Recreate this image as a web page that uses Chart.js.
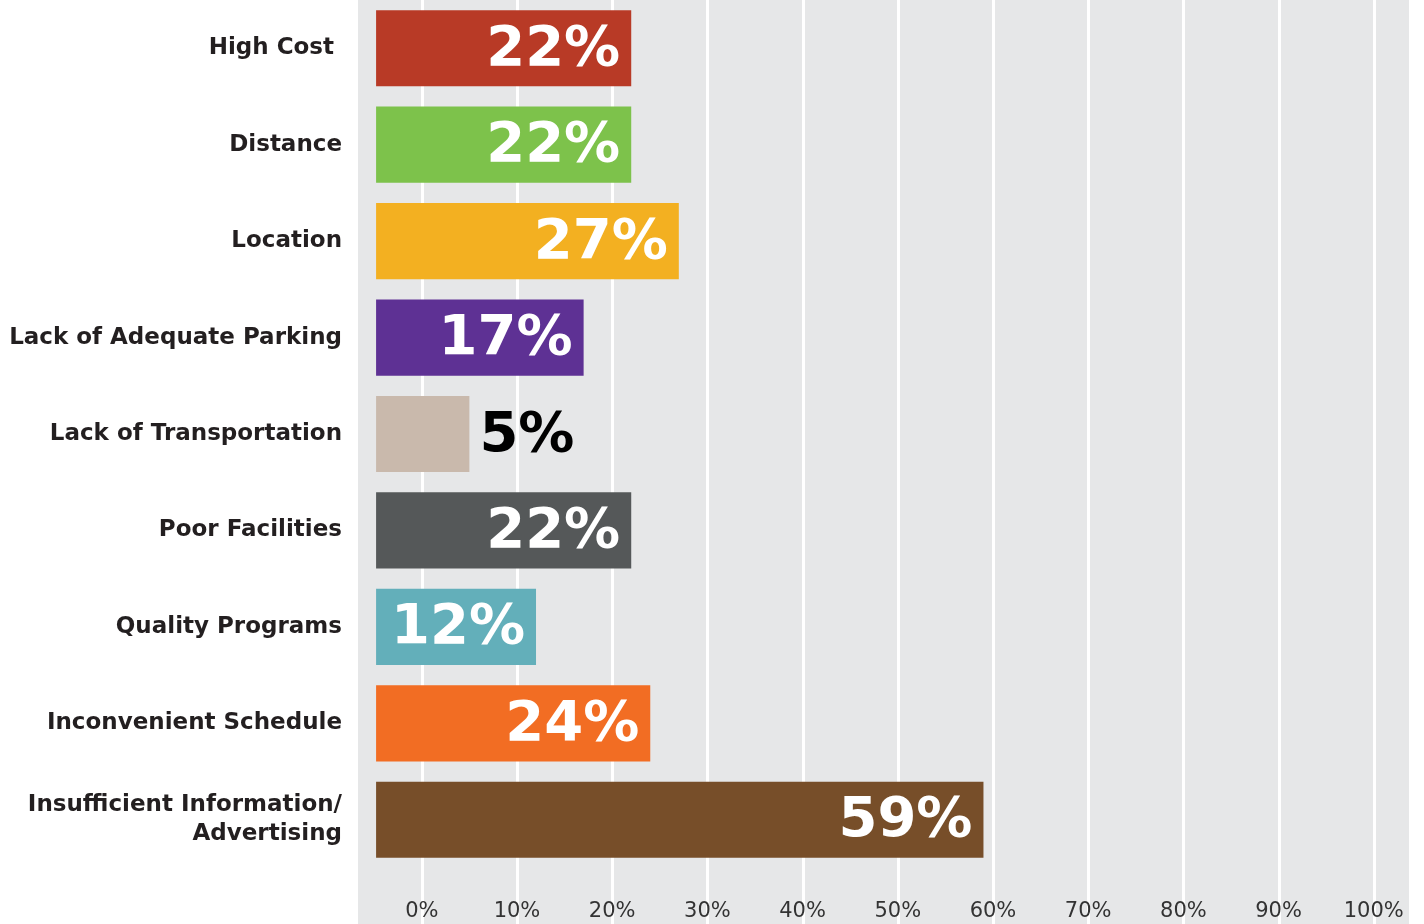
<!DOCTYPE html>
<html>
<head>
<meta charset="utf-8">
<title>Barriers</title>
<script src="https://cdn.jsdelivr.net/npm/chart.js@4.4.1/dist/chart.umd.min.js"></script>
<style>
  html, body { margin: 0; padding: 0; background: #fff; }
  #wrap { width: 1424px; height: 924px; }
</style>
</head>
<body>
<div id="wrap"><canvas id="barriers"></canvas></div>
<script>
// 参加の障壁 横棒グラフ
var categories = [
    "High Cost ",
    "Distance",
    "Location",
    "Lack of Adequate Parking",
    "Lack of Transportation",
    "Poor Facilities",
    "Quality Programs",
    "Inconvenient Schedule",
    ["Insufficient Information/", "Advertising"]
];
var percents = [22, 22, 27, 17, 5, 22, 12, 24, 59];
var barColors = ["#B83A26", "#7DC24B", "#F3B021", "#5E3194", "#C9B9AC", "#555859", "#63AFBA", "#F26D23", "#774E29"];
var tickValues = [0, 10, 20, 30, 40, 50, 60, 70, 80, 90, 100];
var tickLabels = ["0%", "10%", "20%", "30%", "40%", "50%", "60%", "70%", "80%", "90%", "100%"];

var GREY = "#E6E7E8";
var INK = "#231F20";

// ラベルのはみ出し分の余白を消す
function noOverflowPadding(scale) {
    scale.paddingTop = 0;
    scale.paddingBottom = 0;
    scale.paddingLeft = 0;
    scale.paddingRight = 0;
}

// 背景とグリッド線（下端まで伸ばす）
var backdrop = {
    id: 'backdrop',
    beforeDraw: function (chart) {
        var ctx = chart.ctx;
        var area = chart.chartArea;
        var xs = chart.scales.x;
        ctx.save();
        ctx.fillStyle = GREY;
        ctx.fillRect(area.left, 0, area.right - area.left, chart.height);
        ctx.strokeStyle = "#FFFFFF";
        ctx.lineWidth = 3;
        tickValues.forEach(function (v) {
            var px = Math.round(xs.getPixelForValue(v)) + 0.5;
            ctx.beginPath();
            ctx.moveTo(px, 0);
            ctx.lineTo(px, chart.height);
            ctx.stroke();
        });
        ctx.restore();
    }
};

// バーの値ラベル
var valueLabels = {
    id: 'valueLabels',
    afterDatasetsDraw: function (chart) {
        var ctx = chart.ctx;
        var meta = chart.getDatasetMeta(0);
        ctx.save();
        ctx.font = "bold 56px 'DejaVu Sans', Verdana, sans-serif";
        ctx.textBaseline = 'middle';
        meta.data.forEach(function (bar, i) {
            var text = percents[i] + '%';
            var w = ctx.measureText(text).width;
            var barLen = bar.x - bar.base;
            var y = bar.y + 2;
            if (w + 20 > barLen) {
                ctx.fillStyle = "#000000";
                ctx.textAlign = 'left';
                ctx.fillText(text, bar.x + 10, y);
            } else {
                ctx.fillStyle = "#FFFFFF";
                ctx.textAlign = 'right';
                ctx.fillText(text, bar.x - 11, y);
            }
        });
        ctx.restore();
    }
};

var barriersChart = new Chart(document.getElementById("barriers"), {
    type: 'bar',
    data: {
        labels: categories,
        datasets: [{
            data: percents,
            backgroundColor: barColors,
            borderWidth: 0,
            base: -4.8,
            barPercentage: 0.79,
            categoryPercentage: 1.0
        }]
    },
    options: {
        indexAxis: 'y',
        responsive: true,
        maintainAspectRatio: false,
        animation: false,
        layout: {
            padding: { top: 0, right: 15, bottom: 0, left: 0 }
        },
        scales: {
            x: {
                min: -6.7,
                max: 103.7,
                afterBuildTicks: function (scale) {
                    scale.ticks = tickValues.map(function (v) { return { value: v }; });
                },
                afterFit: function (scale) {
                    scale.height = 56;
                    noOverflowPadding(scale);
                },
                grid: { display: false },
                border: { display: false },
                ticks: {
                    autoSkip: false,
                    maxRotation: 0,
                    padding: 23,
                    color: "#333333",
                    font: { family: "'DejaVu Sans', Verdana, sans-serif", size: 21 },
                    callback: function (value, index) {
                        return tickLabels[index];
                    }
                }
            },
            y: {
                afterFit: function (scale) {
                    scale.width = 358;
                    noOverflowPadding(scale);
                },
                grid: { display: false, drawTicks: false },
                border: { display: false },
                ticks: {
                    padding: 16,
                    color: INK,
                    font: { family: "'DejaVu Sans', Verdana, sans-serif", size: 23, weight: 'bold', lineHeight: 1.26 }
                }
            }
        },
        plugins: {
            legend: false,
            tooltip: { enabled: false }
        }
    },
    plugins: [backdrop, valueLabels]
});
</script>
</body>
</html>
